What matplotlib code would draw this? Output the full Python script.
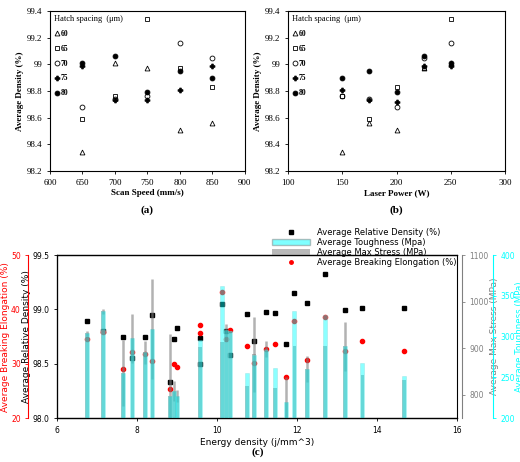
import numpy as np
import matplotlib
matplotlib.use("Agg")
import matplotlib.pyplot as plt
from matplotlib.patches import Patch
from matplotlib.lines import Line2D

# (a) density vs scan speed, per hatch spacing
speed = [650, 700, 750, 800, 850]
dens_speed = {
    60: [98.34, 99.01, 98.97, 98.51, 98.56],
    65: [98.59, 98.76, 99.34, 98.97, 98.83],
    70: [98.68, 98.74, 98.76, 99.16, 99.05],
    75: [98.99, 98.73, 98.73, 98.81, 98.99],
    80: [99.01, 99.06, 98.79, 98.95, 98.90],
}
# (b) density vs laser power
power = [150, 175, 200, 225, 250]
dens_power = {
    60: [98.34, 98.56, 98.51, 98.97, 99.01],
    65: [98.76, 98.59, 98.83, 98.97, 99.34],
    70: [98.76, 98.74, 98.68, 99.05, 99.16],
    75: [98.81, 98.73, 98.72, 98.99, 98.99],
    80: [98.90, 98.95, 98.79, 99.06, 99.01],
}
markers = {60: ('^', 'none'), 65: ('s', 'none'), 70: ('o', 'none'), 75: ('P', 'k'), 80: ('o', 'k')}

# (c) properties vs energy density
energy = [6.75, 7.15, 7.65, 7.88, 8.2, 8.38, 8.82, 8.92, 9.0, 9.57, 10.12, 10.22,
          10.32, 10.75, 10.92, 11.22, 11.45, 11.73, 11.93, 12.25, 12.7, 13.2, 13.63, 14.68]
toughness = [304, 331, 255, 298, 281, 309, 227, 233, 227, 296, 362, 308,
             307, 255, 278, 284, 261, 220, 331, 260, 326, 288, 267, 252]
stress = [932, 979, 846, 921, 891, 941, 797, 808, 797, 902, 913, 938,
          936, 818, 887, 898, 814, 784, 904, 855, 904, 904, 842, 831]
stress_err = [5, 5, 71, 52, 24, 107, 133, 21, 13, 0, 0, 15,
              0, 0, 81, 17, 0, 54, 0, 28, 0, 52, 0, 0]
density = [98.89, 98.80, 98.75, 98.55, 98.75, 98.95, 98.33, 98.73, 98.83, 98.74, 99.05, 98.80,
           98.58, 98.96, 98.71, 98.98, 98.97, 98.68, 99.15, 99.06, 99.33, 98.99, 99.01, 99.01]
elong = [34.5, 35.8, 29.0, 32.1, 31.8, 30.5, 25.3, 29.9, 29.4, 37.1, 43.2, 34.5,
         36.2, 33.3, 30.1, 32.7, 33.6, 27.5, 37.9, 30.7, 38.6, 32.3, 34.2, 32.3]
extra_x = [9.57]
extra_density = [98.50]
extra_elong = [35.6]

serif = 'Liberation Serif'
fig = plt.figure(figsize=(5.2, 4.62), dpi=100)


def top_panel(rect, x, data, xlim, xticks, xlabel, tag):
    ax = fig.add_axes(rect)
    for h, vals in data.items():
        m, fc = markers[h]
        ax.plot(x, vals, linestyle='none', marker=m, mfc=fc, mec='k', color='k',
                ms=3.5, mew=0.6, label=str(h))
    ax.set_xlim(*xlim)
    ax.set_ylim(98.2, 99.4)
    ax.set_xticks(xticks)
    ax.set_yticks([98.2, 98.4, 98.6, 98.8, 99, 99.2, 99.4])
    ax.set_yticklabels(['98.2', '98.4', '98.6', '98.8', '99', '99.2', '99.4'])
    for lab in ax.get_xticklabels() + ax.get_yticklabels():
        lab.set_fontfamily(serif)
        lab.set_fontsize(6.5)
    ax.tick_params(length=2, width=0.6)
    ax.set_xlabel(xlabel, fontfamily=serif, fontsize=6.5, fontweight='bold', labelpad=2)
    ax.set_ylabel('Average Density (%)', fontfamily=serif, fontsize=6.5, fontweight='bold', labelpad=2)
    leg = ax.legend(title='Hatch spacing  (\u03bcm)', loc='upper left', frameon=False,
                    prop={'family': serif, 'size': 5.5, 'weight': 'bold'},
                    handletextpad=0.1, handlelength=0.8, labelspacing=0.9,
                    borderaxespad=0.1, alignment='left')
    leg.get_title().set_fontfamily(serif)
    leg.get_title().set_fontsize(6)
    fig.text(rect[0] + rect[2] / 2, 0.54, tag, ha='center', fontfamily=serif,
             fontsize=8, fontweight='bold')
    return ax


top_panel([0.096, 0.63, 0.375, 0.346], speed, dens_speed, (600, 900),
          [600, 650, 700, 750, 800, 850, 900], 'Scan Speed (mm/s)', '(a)')
top_panel([0.554, 0.63, 0.417, 0.346], power, dens_power, (100, 300),
          [100, 150, 200, 250, 300], 'Laser Power (W)', '(b)')

# bottom panel
ax = fig.add_axes([0.11, 0.095, 0.769, 0.353])
ax_e = ax.twinx()
ax_s = ax.twinx()
ax_t = ax.twinx()
ax_e.spines['right'].set_visible(False)
ax_e.spines['left'].set_visible(True)
ax_e.spines['left'].set_position(('axes', -0.072))
ax_e.yaxis.set_label_position('left')
ax_e.yaxis.set_ticks_position('left')
ax_s.spines['right'].set_position(('axes', 1.012))
ax_t.spines['right'].set_position(('axes', 1.09))

ax_e.plot(energy, elong, 'o', color='red', ms=3)
ax_e.plot(extra_x, extra_elong, 'o', color='red', ms=3)
ax.plot(energy, density, 's', color='k', ms=3)
ax.plot(extra_x, extra_density, 's', color='k', ms=3)
ax_s.bar(energy, np.array(stress) - 750, bottom=750, width=0.09, color='grey', alpha=0.55,
         yerr=stress_err, error_kw=dict(ecolor='grey', elinewidth=1.8, capsize=0, alpha=0.6))
ax_t.bar(energy, np.array(toughness) - 200, bottom=200, width=0.1, color='cyan', alpha=0.45,
         edgecolor='#7fd8d8', linewidth=0.5)

ax.set_xlim(6, 16)
ax.set_ylim(98.0, 99.5)
ax.set_yticks([98.0, 98.5, 99.0, 99.5])
ax_e.set_ylim(20, 50)
ax_e.set_yticks([20, 30, 40, 50])
ax_s.set_ylim(750, 1100)
ax_s.set_yticks([800, 900, 1000, 1100])
ax_t.set_ylim(200, 400)
ax_t.set_yticks([200, 250, 300, 350, 400])

for a, c in [(ax_e, 'red'), (ax_s, 'grey'), (ax_t, 'cyan')]:
    side = 'left' if a is ax_e else 'right'
    a.spines[side].set_color(c)
    a.tick_params(axis='y', colors=c, labelsize=5.5, length=2, width=0.6)
ax.tick_params(labelsize=5.5, length=2, width=0.6)
ax.set_xlabel('Energy density (j/mm^3)', fontsize=6.5, labelpad=2)
ax.set_ylabel('Average Relative Density (%)', fontsize=6.5, labelpad=1)
ax_e.set_ylabel('Average Breaking Elongation (%)', fontsize=6.5, color='red', labelpad=1)
ax_s.set_ylabel('Average Max Stress (MPa)', fontsize=6.5, color='grey', labelpad=1)
ax_t.set_ylabel('Average Toughness (MPa)', fontsize=6.2, color='cyan', labelpad=0)

handles = [Line2D([], [], marker='s', ls='none', color='k', ms=2.5),
           Patch(facecolor='cyan', alpha=0.5, edgecolor='grey'),
           Patch(facecolor='grey', alpha=0.55),
           Line2D([], [], marker='o', ls='none', color='red', ms=2.5)]
labels = ['Average Relative Density (%)', 'Average Toughness (Mpa)',
          'Average Max Stress (MPa)', 'Average Breaking Elongation (%)']
fig.legend(handles, labels, loc='upper right', bbox_to_anchor=(0.885, 0.515),
           frameon=False, fontsize=6, labelspacing=0.1, handlelength=4.5, borderpad=0)
fig.text(0.495, 0.015, '(c)', ha='center', fontfamily=serif, fontsize=8, fontweight='bold')

fig.savefig('out.png', dpi=100)
